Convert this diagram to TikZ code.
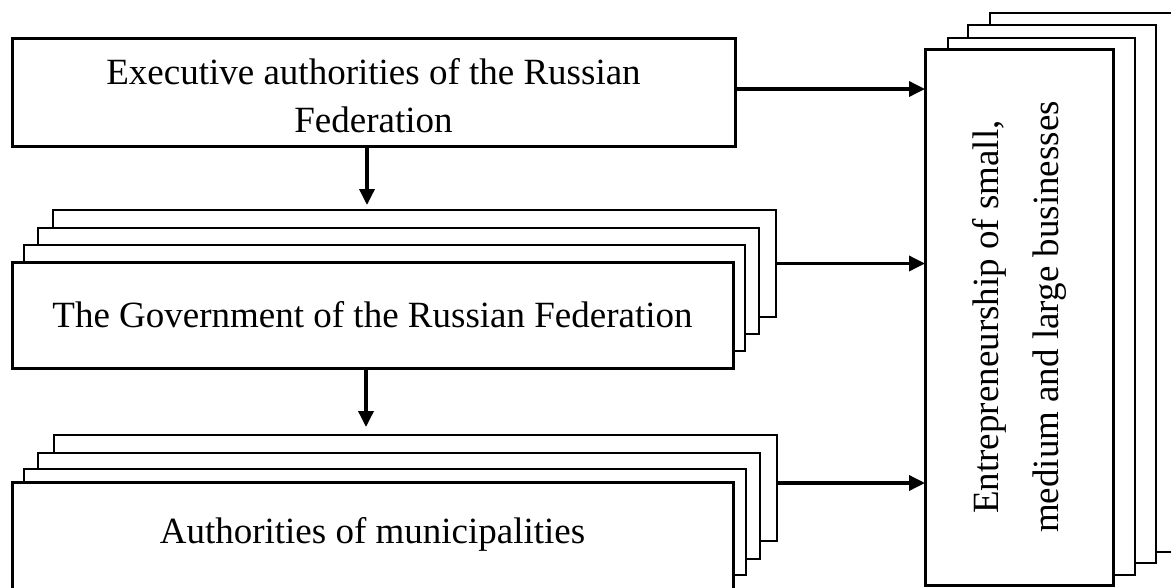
\documentclass[tikz,border=0pt]{standalone}
\usepackage{fontspec}
\setmainfont{Liberation Serif}
\usetikzlibrary{arrows.meta}
\tikzset{
  layer/.style={draw, fill=white, line width=1.9pt, inner sep=0pt, outer sep=0pt, anchor=north west},
  frontbox/.style={draw, fill=white, line width=3pt, inner sep=0pt, outer sep=0pt, anchor=north west, align=center, font=\fontsize{37}{48}\selectfont},
  arr/.style={line width=3.5pt, -{Triangle[length=16pt,width=15pt]}},
}
\begin{document}
\begin{tikzpicture}[x=1pt,y=-1pt]
\useasboundingbox (0,0) rectangle (1171,587);
\clip (0,0) rectangle (1171,587);
% top box
\node[frontbox, minimum width=723pt, minimum height=108pt] (exec) at (12,38) {\rule{0pt}{33pt}Executive authorities of the Russian\\Federation};
% government stack
\node[layer, minimum width=723pt, minimum height=107pt] (g4) at (53,210) {};
\node[layer, minimum width=721pt, minimum height=106pt] (g3) at (38,228) {};
\node[layer, line width=2.3pt, minimum width=721pt, minimum height=106pt] (g2) at (24,245) {};
\node[frontbox, minimum width=721pt, minimum height=106pt] (gov) at (12,262) {The Government of the Russian Federation};
% municipalities stack
\node[layer, minimum width=723pt, minimum height=106pt] (m4) at (54,435) {};
\node[layer, minimum width=722pt, minimum height=106pt] (m3) at (38,453) {};
\node[layer, minimum width=722pt, minimum height=106pt] (m2) at (24,469) {};
\node[frontbox, minimum width=721pt, minimum height=110pt] (muni) at (12,482) {};
\node[font=\fontsize{37}{48}\selectfont] (munilabel) at (372.5,534) {Authorities of municipalities};
% entrepreneurship stack
\node[layer, minimum width=200pt, minimum height=539pt] (e4) at (990,13) {};
\node[layer, minimum width=188pt, minimum height=538pt] (e3) at (968,25) {};
\node[layer, minimum width=187pt, minimum height=537pt] (e2) at (948,38) {};
\node[frontbox, minimum width=188pt, minimum height=536pt] (ent) at (925,49) {};
\node[rotate=90, align=center, font=\fontsize{37}{60}\selectfont] (entlabel) at (ent.center) {Entrepreneurship of small,\\medium and large businesses};
% connectors
\draw[arr] ([yshift=3pt]exec.east) -- ([yshift=3pt]exec.east -| ent.west);
\draw[arr] (g4.east) -- (g4.east -| ent.west);
\draw[arr] ([yshift=5pt]m4.east) -- ([yshift=5pt]m4.east -| ent.west);
\draw[arr, shorten >=5pt] ([xshift=-6.5pt]exec.south) -- ([xshift=-6.5pt]exec.south |- g4.north);
\draw[arr, shorten >=8pt] ([xshift=-6.5pt]gov.south) -- ([xshift=-6.5pt]gov.south |- m4.north);
\end{tikzpicture}
\end{document}
